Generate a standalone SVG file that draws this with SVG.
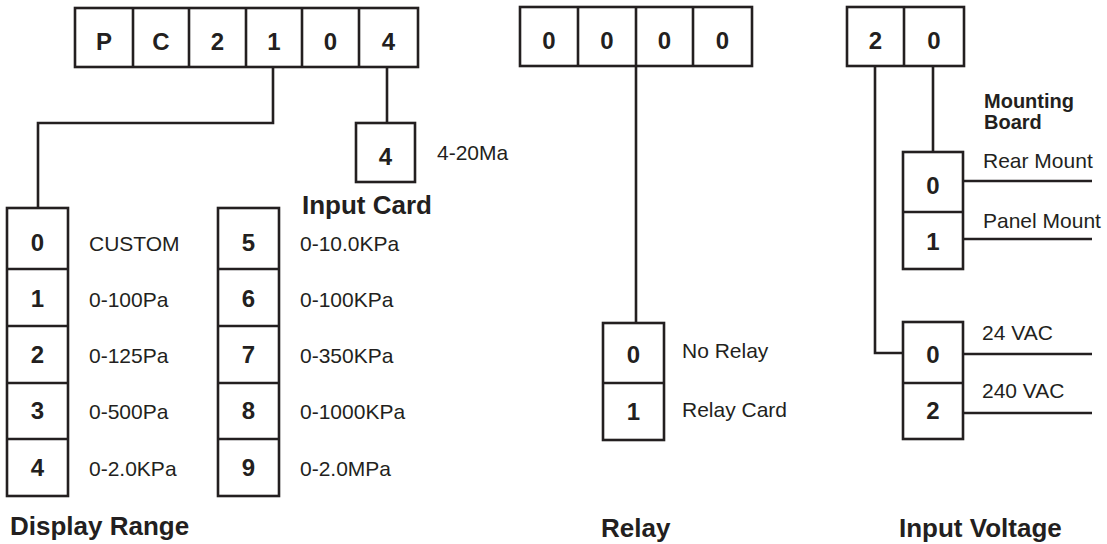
<svg xmlns="http://www.w3.org/2000/svg" width="1107" height="544" viewBox="0 0 1107 544">
<style>
.b{fill:#fff;stroke:#231f20;stroke-width:2.6}
.l{fill:none;stroke:#231f20;stroke-width:2.6}
.d{font-family:"Liberation Sans",Arial,sans-serif;font-weight:bold;font-size:24px;fill:#231f20;text-anchor:middle}
.t{font-family:"Liberation Sans",Arial,sans-serif;font-size:21px;fill:#231f20}
.h{font-family:"Liberation Sans",Arial,sans-serif;font-weight:bold;font-size:26px;fill:#231f20}
.m{font-family:"Liberation Sans",Arial,sans-serif;font-weight:bold;font-size:20px;fill:#231f20}
</style>
<rect width="1107" height="544" fill="#fff"/>
<g id="connectors">
<polyline class="l" points="273,67 273,123 38,123 38,208"/>
<line class="l" x1="387" y1="67" x2="387" y2="123"/>
<line class="l" x1="636" y1="66" x2="636" y2="323"/>
<line class="l" x1="933" y1="66" x2="933" y2="152"/>
<polyline class="l" points="875,66 875,353 903,353"/>
<line class="l" x1="963" y1="181" x2="1092" y2="181"/>
<line class="l" x1="963" y1="239" x2="1092" y2="239"/>
<line class="l" x1="963" y1="354" x2="1092" y2="354"/>
<line class="l" x1="963" y1="413" x2="1092" y2="413"/>
</g>
<g id="code-pc2104">
<rect class="b" x="75" y="8" width="343" height="59"/>
<line class="l" x1="133" y1="8" x2="133" y2="67"/>
<line class="l" x1="189" y1="8" x2="189" y2="67"/>
<line class="l" x1="246" y1="8" x2="246" y2="67"/>
<line class="l" x1="302" y1="8" x2="302" y2="67"/>
<line class="l" x1="359" y1="8" x2="359" y2="67"/>
<text class="d" x="104" y="50">P</text>
<text class="d" x="161" y="50">C</text>
<text class="d" x="217.5" y="50">2</text>
<text class="d" x="274" y="50">1</text>
<text class="d" x="330.5" y="50">0</text>
<text class="d" x="388.5" y="50">4</text>
</g>
<g id="code-0000">
<rect class="b" x="520" y="7" width="232" height="59"/>
<line class="l" x1="578" y1="7" x2="578" y2="66"/>
<line class="l" x1="636" y1="7" x2="636" y2="66"/>
<line class="l" x1="693" y1="7" x2="693" y2="66"/>
<text class="d" x="549" y="49">0</text>
<text class="d" x="607" y="49">0</text>
<text class="d" x="664.5" y="49">0</text>
<text class="d" x="722.5" y="49">0</text>
</g>
<g id="code-20">
<rect class="b" x="847" y="7" width="117" height="59"/>
<line class="l" x1="904" y1="7" x2="904" y2="66"/>
<text class="d" x="875.5" y="49">2</text>
<text class="d" x="934" y="49">0</text>
</g>
<g id="input-card">
<rect class="b" x="356" y="123" width="59" height="59"/>
<text class="d" x="385.5" y="165">4</text>
<text class="t" x="437" y="160">4-20Ma</text>
<text class="h" x="302" y="214">Input Card</text>
</g>
<g id="display-range-a">
<rect class="b" x="7" y="208" width="61" height="288"/>
<line class="l" x1="7" y1="269" x2="68" y2="269"/>
<line class="l" x1="7" y1="326" x2="68" y2="326"/>
<line class="l" x1="7" y1="383" x2="68" y2="383"/>
<line class="l" x1="7" y1="439" x2="68" y2="439"/>
<text class="d" x="37.5" y="251">0</text>
<text class="d" x="37.5" y="307">1</text>
<text class="d" x="37.5" y="363">2</text>
<text class="d" x="37.5" y="419">3</text>
<text class="d" x="37.5" y="476">4</text>
<text class="t" x="89" y="251">CUSTOM</text>
<text class="t" x="89" y="307">0-100Pa</text>
<text class="t" x="89" y="363">0-125Pa</text>
<text class="t" x="89" y="419">0-500Pa</text>
<text class="t" x="89" y="476">0-2.0KPa</text>
</g>
<g id="display-range-b">
<rect class="b" x="218" y="208" width="61" height="288"/>
<line class="l" x1="218" y1="269" x2="279" y2="269"/>
<line class="l" x1="218" y1="326" x2="279" y2="326"/>
<line class="l" x1="218" y1="383" x2="279" y2="383"/>
<line class="l" x1="218" y1="439" x2="279" y2="439"/>
<text class="d" x="248.5" y="251">5</text>
<text class="d" x="248.5" y="307">6</text>
<text class="d" x="248.5" y="363">7</text>
<text class="d" x="248.5" y="419">8</text>
<text class="d" x="248.5" y="476">9</text>
<text class="t" x="300" y="251">0-10.0KPa</text>
<text class="t" x="300" y="307">0-100KPa</text>
<text class="t" x="300" y="363">0-350KPa</text>
<text class="t" x="300" y="419">0-1000KPa</text>
<text class="t" x="300" y="476">0-2.0MPa</text>
<text class="h" x="10" y="535">Display Range</text>
</g>
<g id="relay">
<rect class="b" x="603" y="323" width="61" height="117"/>
<line class="l" x1="603" y1="383" x2="664" y2="383"/>
<text class="d" x="633.5" y="363">0</text>
<text class="d" x="633.5" y="420">1</text>
<text class="t" x="682" y="358">No Relay</text>
<text class="t" x="682" y="417">Relay Card</text>
<text class="h" x="601" y="537">Relay</text>
</g>
<g id="mounting-board">
<text class="m" x="984" y="108">Mounting</text>
<text class="m" x="984" y="129">Board</text>
<rect class="b" x="903" y="152" width="60" height="117"/>
<line class="l" x1="903" y1="212" x2="963" y2="212"/>
<text class="d" x="933" y="194">0</text>
<text class="d" x="933" y="250">1</text>
<text class="t" x="983" y="168">Rear Mount</text>
<text class="t" x="983" y="228">Panel Mount</text>
</g>
<g id="input-voltage">
<rect class="b" x="903" y="322" width="60" height="117"/>
<line class="l" x1="903" y1="383" x2="963" y2="383"/>
<text class="d" x="933" y="363">0</text>
<text class="d" x="933" y="419">2</text>
<text class="t" x="982" y="340">24 VAC</text>
<text class="t" x="982" y="398">240 VAC</text>
<text class="h" x="899" y="537">Input Voltage</text>
</g>
</svg>
